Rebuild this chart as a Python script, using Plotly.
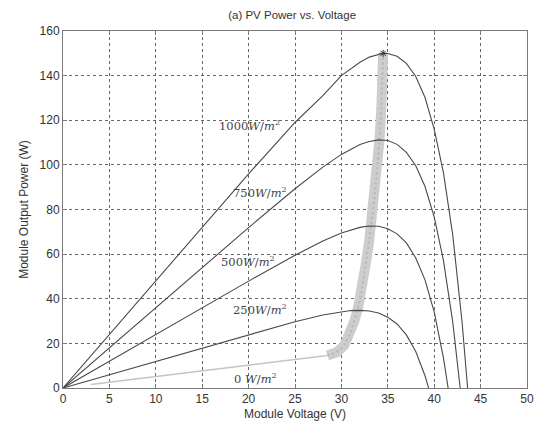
import plotly.graph_objects as go

# Irradiance curves (Module voltage V, power W)
voltage_1000 = [0, 5, 10, 15, 20, 25, 28, 30, 32, 33, 34, 34.5, 35, 36, 37, 38, 39, 40, 41, 42, 43, 43.6]
power_1000 = [0, 24, 48, 72, 96, 119, 131, 140, 146, 148.3, 149.6, 150, 149.9, 148.7, 145.5, 139.7, 130.3, 116, 96.4, 68.5, 29.7, 0]

voltage_750 = [0, 5, 10, 15, 20, 25, 28, 30, 32, 33, 34, 35, 36, 37, 38, 39, 40, 41, 42, 42.8]
power_750 = [0, 18, 36, 54, 71.9, 89.3, 99, 104.7, 109.1, 110.5, 111.2, 110.9, 109.2, 105.6, 99.7, 90.4, 76.7, 57.1, 29.5, 0]

voltage_500 = [0, 5, 10, 15, 20, 25, 28, 30, 32, 33, 34, 35, 36, 37, 38, 39, 40, 41, 41.5]
power_500 = [0, 12, 24, 36, 47.9, 59.5, 65.9, 69.5, 72.0, 72.6, 72.5, 71.4, 69.1, 65, 58.4, 48.6, 34.1, 13.4, 0]

voltage_250 = [0, 5, 10, 15, 20, 25, 28, 30, 31, 32, 33, 34, 35, 36, 37, 38, 39, 39.4]
power_250 = [0, 6, 12, 18, 23.9, 29.7, 32.7, 34.2, 34.7, 34.8, 34.5, 33.6, 31.7, 28.7, 23.8, 16.5, 5.6, 0]

# MPPT operating-point trajectory
track_low_v = [3, 10, 15, 20, 25, 28.5]
track_low_p = [1.6, 5.1, 7.6, 10.1, 12.7, 14.6]
mppt_v = [28.5, 29.5, 30.3, 30.9, 31.4, 31.8, 32.2, 32.6, 33.0, 33.4, 33.8, 34.1, 34.3, 34.4, 34.5]
mppt_p = [14.6, 16, 19, 24, 30, 36, 44, 55, 66, 80, 95, 111, 125, 138, 150]
peak_v = [34.5]
peak_p = [150]

# Labels
label_texts = ["1000<i>W</i>/<i>m</i><sup>2</sup>", "750<i>W</i>/<i>m</i><sup>2</sup>",
               "500<i>W</i>/<i>m</i><sup>2</sup>", "250<i>W</i>/<i>m</i><sup>2</sup>",
               "0 <i>W</i>/<i>m</i><sup>2</sup>"]
label_v = [20.1, 21.2, 19.9, 21.2, 20.7]
label_p = [117.7, 87.4, 56.7, 35.2, 4.3]

x_ticks = [0, 5, 10, 15, 20, 25, 30, 35, 40, 45, 50]
y_ticks = [0, 20, 40, 60, 80, 100, 120, 140, 160]

fig = go.Figure()

fig.add_trace(go.Scatter(x=track_low_v, y=track_low_p, mode="lines",
                         line=dict(color="#c4c4c4", width=1.5), showlegend=False))
fig.add_trace(go.Scatter(x=mppt_v, y=mppt_p, mode="lines",
                         line=dict(color="#cdcdcd", width=10), showlegend=False))
fig.add_trace(go.Scatter(x=mppt_v, y=mppt_p, mode="lines",
                         line=dict(color="#b6b6b6", width=2, dash="2px,3px"), showlegend=False))

for v, p in [(voltage_1000, power_1000), (voltage_750, power_750),
             (voltage_500, power_500), (voltage_250, power_250)]:
    fig.add_trace(go.Scatter(x=v, y=p, mode="lines", line=dict(color="#4a4a4a", width=1.1),
                             showlegend=False))

fig.add_trace(go.Scatter(x=peak_v, y=peak_p, mode="markers",
                         marker=dict(symbol="asterisk-open", size=6, color="#333333",
                                     line=dict(width=1, color="#333333")),
                         showlegend=False))

for t, v, p in zip(label_texts, label_v, label_p):
    fig.add_annotation(x=v, y=p, text=t, showarrow=False,
                       font=dict(family="DejaVu Serif", size=11.5, color="#444444"))

axis_common = dict(showgrid=True, gridcolor="#666666", griddash="dot", gridwidth=1,
                   zeroline=False, showline=True, linecolor="#7a7a7a", linewidth=1,
                   mirror="allticks", ticks="inside", ticklen=4, tickcolor="#7a7a7a",
                   automargin=False,
                   tickfont=dict(family="Liberation Sans", size=12, color="#333333"))

fig.update_xaxes(range=[0, 50], tickvals=x_ticks, ticktext=[str(t) for t in x_ticks],
                 title=dict(text="Module Voltage (V)", standoff=4,
                            font=dict(family="Liberation Sans", size=12, color="#333333")),
                 **axis_common)
fig.update_yaxes(range=[0, 160], tickvals=y_ticks, ticktext=[str(t) for t in y_ticks],
                 title=dict(text="Module Output Power (W)", standoff=8,
                            font=dict(family="Liberation Sans", size=12, color="#333333")),
                 **axis_common)

fig.update_layout(
    width=536, height=426,
    margin=dict(l=63, r=9, t=31, b=38),
    paper_bgcolor="white", plot_bgcolor="white",
    hovermode=False,
    title=dict(text="(a) PV Power vs. Voltage", x=0.545, xanchor="center", y=0.965, yanchor="middle",
               font=dict(family="Liberation Sans", size=11.5, color="#333333")),
)

fig.write_html("out.html", config={"displayModeBar": False, "staticPlot": True},
               post_script="document.body.style.margin='0';document.body.style.overflow='hidden';")
